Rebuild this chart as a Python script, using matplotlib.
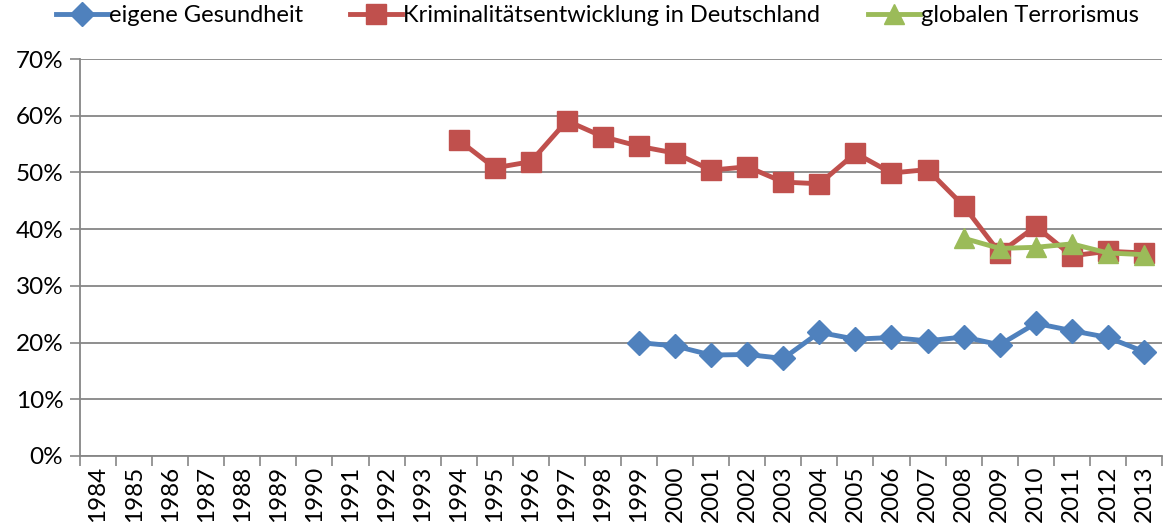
import numpy as np
import matplotlib.pyplot as plt
from matplotlib.ticker import FixedLocator, PercentFormatter

years = [str(y) for y in range(1984, 2014)]
nan = np.nan
gesundheit = [nan]*15 + [20.0, 19.4, 17.8, 17.9, 17.2, 21.8, 20.6, 20.9, 20.3, 21.0, 19.6, 23.4, 22.1, 20.9, 18.4]
kriminal = [nan]*10 + [55.7, 50.8, 51.9, 59.1, 56.3, 54.6, 53.4, 50.4, 51.0, 48.3, 48.0, 53.4, 49.9, 50.5, 44.1, 35.8, 40.5, 35.3, 36.1, 35.8]
terror = [nan]*24 + [38.4, 36.6, 36.8, 37.4, 35.8, 35.5]
labels = ["eigene Gesundheit", "Kriminalitätsentwicklung in Deutschland", "globalen Terrorismus"]

plt.rcParams['font.family'] = ['Lato', 'DejaVu Sans']
fig = plt.figure(figsize=(11.71, 5.26), dpi=100)
ax = fig.add_axes([80/1171, 1-456/526, (1162-80)/1171, (456-59)/526])

x = np.arange(len(years))
ax.plot(x, gesundheit, color='#4F81BD', lw=3.5, marker='D', ms=12, label=labels[0], zorder=3)
ax.plot(x, kriminal, color='#C0504D', lw=3.5, marker='s', ms=14, label=labels[1], zorder=3)
ax.plot(x, terror, color='#9BBB59', lw=3.5, marker='^', ms=15, label=labels[2], zorder=4)

ax.set_xlim(-0.5, len(years)-0.5)
ax.set_ylim(0, 70)
ax.set_yticks(np.arange(0, 71, 10))
ax.yaxis.set_major_formatter(PercentFormatter(decimals=0))
ax.set_xticks(x)
ax.set_xticklabels(years, rotation=90)
ax.xaxis.set_minor_locator(FixedLocator(np.arange(-0.5, len(years), 1)))
ax.tick_params(axis='x', which='major', length=0, pad=7, labelsize=17.5)
ax.tick_params(axis='x', which='minor', length=7, color='#868686', width=1.2)
ax.tick_params(axis='y', length=7, color='#868686', width=1.2, labelsize=17.5, pad=5)
ax.grid(axis='y', color='#868686', lw=1.3)
ax.set_axisbelow(True)
for s in ['top', 'right']:
    ax.spines[s].set_visible(False)
for s in ['left', 'bottom']:
    ax.spines[s].set_color('#868686')
    ax.spines[s].set_linewidth(1.3)

fig.legend(loc='upper center', bbox_to_anchor=(0.51, 1.03), ncol=3, frameon=False,
           fontsize=17, handlelength=2.2, handletextpad=0.05, columnspacing=2.0)

fig.savefig('out.png', dpi=100)
